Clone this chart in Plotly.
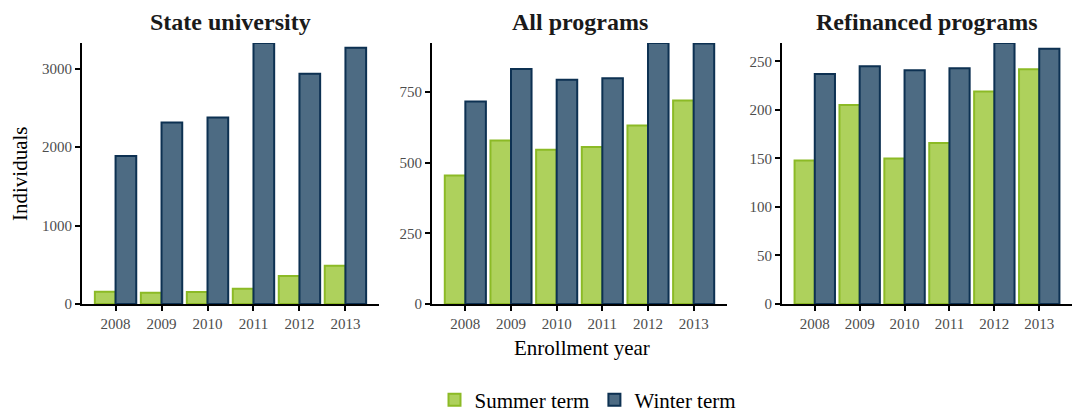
import plotly.graph_objects as go
from plotly.subplots import make_subplots

years = ["2008", "2009", "2010", "2011", "2012", "2013"]
panel_titles = ["State university", "All programs", "Refinanced programs"]
series_names = ["Summer term", "Winter term"]

state_summer = [157, 144, 153, 195, 356, 488]
state_winter = [1888, 2313, 2376, 3327, 2936, 3267]
all_summer = [455, 579, 546, 556, 632, 720]
all_winter = [717, 832, 794, 799, 924, 922]
refi_summer = [148, 205, 150, 166, 219, 242]
refi_winter = [237, 245, 241, 243, 269, 263]

y_ticks = [
    [0, 1000, 2000, 3000],
    [0, 250, 500, 750],
    [0, 50, 100, 150, 200, 250],
]

summer_fill = "#aed15c"
summer_line = "#8cba26"
winter_fill = "#4d6b83"
winter_line = "#0d3152"

W, H = 1073, 414
panels = [(state_summer, state_winter), (all_summer, all_winter), (refi_summer, refi_winter)]
x_px = [(82, 379), (432, 727), (782, 1072)]
y_top, y_bot = 43, 304

fig = make_subplots(rows=1, cols=3)
serif = "Liberation Serif, Times New Roman, serif"

for i, (s, w) in enumerate(panels):
    col = i + 1
    fig.add_trace(go.Bar(x=years, y=s, name=series_names[0], legendgroup="s",
                         showlegend=(i == 0),
                         marker=dict(color=summer_fill, line=dict(color=summer_line, width=2))),
                  row=1, col=col)
    fig.add_trace(go.Bar(x=years, y=w, name=series_names[1], legendgroup="w",
                         showlegend=(i == 0),
                         marker=dict(color=winter_fill, line=dict(color=winter_line, width=2))),
                  row=1, col=col)
    xa = "xaxis" if i == 0 else f"xaxis{col}"
    ya = "yaxis" if i == 0 else f"yaxis{col}"
    x0, x1 = x_px[i]
    fig.layout[xa].update(
        domain=[x0 / W, x1 / W], type="category", range=[-0.73, 5.73],
        showline=True, linecolor="black", linewidth=2,
        ticks="outside", ticklen=5, tickcolor="black", tickwidth=1.5,
        tickfont=dict(family=serif, size=15, color="#4d4d4d"),
        showgrid=False, zeroline=False, automargin=False,
    )
    ymax = max(max(s), max(w))
    fig.layout[ya].update(
        domain=[1 - y_bot / H, 1 - y_top / H], range=[0, ymax],
        tickvals=y_ticks[i],
        showline=True, linecolor="black", linewidth=2,
        ticks="outside", ticklen=5, tickcolor="black", tickwidth=1.5,
        tickfont=dict(family=serif, size=15, color="#4d4d4d"),
        showgrid=False, zeroline=False, automargin=False,
    )
    fig.add_annotation(text=f"<b>{panel_titles[i]}</b>", xref="paper", yref="paper",
                       x=(x0 + x1) / 2 / W, y=1 - 22 / H, xanchor="center", yanchor="middle",
                       showarrow=False, font=dict(family=serif, size=24, color="#1a1a1a"))

fig.add_annotation(text="Individuals", xref="paper", yref="paper", x=20 / W,
                   y=1 - 174 / H, textangle=-90, xanchor="center", yanchor="middle",
                   showarrow=False, font=dict(family=serif, size=21, color="black"))
fig.add_annotation(text="Enrollment year", xref="paper", yref="paper", x=582 / W,
                   y=1 - 348 / H, xanchor="center", yanchor="middle",
                   showarrow=False, font=dict(family=serif, size=21, color="black"))

fig.update_layout(
    width=W, height=H, barmode="group", bargap=0.1, bargroupgap=0,
    margin=dict(l=0, r=0, t=0, b=0, autoexpand=False),
    plot_bgcolor="white", paper_bgcolor="white",
    legend=dict(orientation="h", x=588 / W, xanchor="center", y=1 - 400 / H, yanchor="middle",
                font=dict(family=serif, size=21, color="black"), itemwidth=30,
                traceorder="normal"),
)

fig.write_html("out.html", config={"displayModeBar": False},
               post_script="document.body.style.margin='0';document.body.style.overflow='hidden';")
